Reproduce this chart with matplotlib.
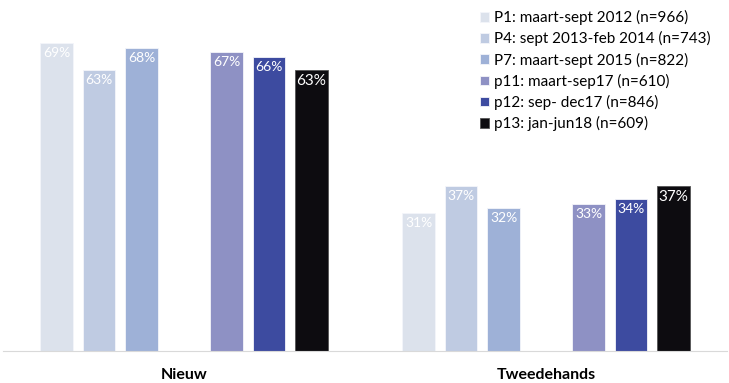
import numpy as np
import matplotlib.pyplot as plt

plt.rcParams['font.family'] = ['Lato', 'DejaVu Sans']

# data
categories = ['Nieuw', 'Tweedehands']
series = ['P1: maart-sept 2012 (n=966)',
          'P4: sept 2013-feb 2014 (n=743)',
          'P7: maart-sept 2015 (n=822)',
          'p11: maart-sep17 (n=610)',
          'p12: sep- dec17 (n=846)',
          'p13: jan-jun18 (n=609)']
p1 = [69, 31]
p4 = [63, 37]
p7 = [68, 32]
p11 = [67, 33]
p12 = [66, 34]
p13 = [63, 37]
values = [p1, p4, p7, p11, p12, p13]

colors = ['#DCE2EC', '#BFCBE2', '#9EB1D7', '#8E91C4', '#3D4BA0', '#0D0C10']
# slot 0 is left empty in the original (missing period)
offsets = [-3, -2, -1, 1, 2, 3]
slot = 0.1174
width = 0.091

fig = plt.figure(figsize=(7.29, 3.83), dpi=100)
ax = fig.add_axes([3/729, 1 - 351/383, 724/729, 348/383])

x = np.arange(len(categories))
for i in range(len(series)):
    pos = x + offsets[i] * slot
    bars = ax.bar(pos, values[i], width, color=colors[i], label=series[i],
                  edgecolor='#F4F5FA' if i < 5 else '#555555', linewidth=0.6)
    big = (i == 5)
    for b, v in zip(bars, values[i]):
        ax.text(b.get_x() + b.get_width() / 2, v - 0.9, f'{v}%',
                ha='center', va='top', color='white',
                fontsize=11 if big else 10)

ax.set_xlim(-0.5, 1.5)
ax.set_ylim(0, 78)
ax.set_yticks([])
ax.set_xticks(x)
ax.set_xticklabels(categories, fontsize=11.5, fontweight='bold')
ax.tick_params(axis='x', length=0, pad=12)
for s in ['top', 'right', 'left']:
    ax.spines[s].set_visible(False)
ax.spines['bottom'].set_color('#D9D9D9')

ax.legend(loc='upper left', bbox_to_anchor=(466/724, 1.01), frameon=False,
          fontsize=11, handlelength=0.6, handleheight=0.6, handletextpad=0.35,
          labelspacing=0.4, borderaxespad=0.3)

plt.savefig('out.png', dpi=100)
